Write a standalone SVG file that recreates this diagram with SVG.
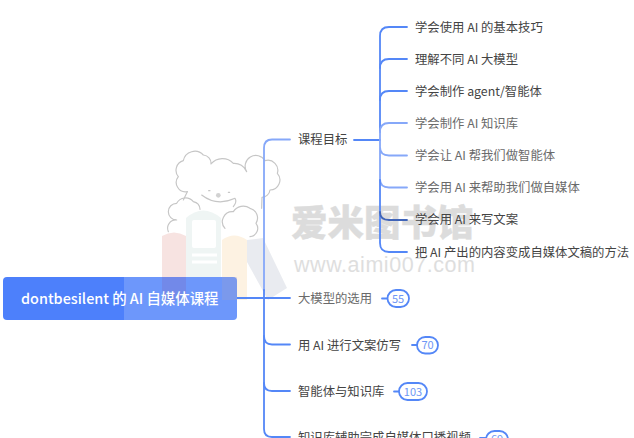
<svg xmlns="http://www.w3.org/2000/svg" width="634" height="438" viewBox="0 0 634 438">
<style>
text{font-family:"Noto Sans CJK SC","Noto Sans",sans-serif;font-size:12.350px;fill:#444}
.soft{fill:#6a6a6a}
.c{fill:none;stroke:#5487f7;stroke-width:1.800;stroke-linecap:round}
.l{stroke:#86a8f9}
.b{fill:#fff;stroke:#5487f7;stroke-width:1.800}
.n{font-size:11px;fill:#6f97f5;text-anchor:middle}
.bear{fill:none;stroke:#c6c6c6;stroke-width:3.500;stroke-linejoin:round;stroke-linecap:round}
</style>
<rect width="634" height="438" fill="#fff"/>
<g id="watermark">
<path d="M162 236Q174 229 186 236V300H162Z" fill="#f7e3e1"/>
<path d="M186 218Q203 203 221 218V300H186Z" fill="#eff5f4"/>
<rect x="192" y="220" width="24" height="28" rx="2" fill="#fff"/>
<path d="M192 255H217M192 262H217" stroke="#fff" stroke-width="3"/>
<path d="M222 240Q234 231 247 240V300H222Z" fill="#fdf2e2"/>
<path d="M247 240L263 238L287 288L268 300L247 262Z" fill="#e9ebf0"/>
<g transform="translate(150 140) scale(.3333)">
<path class="bear" d="M112 155A28 28 0 0 1 85 110A30 30 0 0 1 100 62A35 35 0 0 1 160 45A25 25 0 0 1 183 72A45 45 0 0 1 250 70A40 40 0 0 1 290 95A30 30 0 0 1 345 62A30 30 0 0 1 382 100A30 30 0 0 1 360 150A25 25 0 0 1 336 172L335 205"/>
<path class="bear" d="M112 155L100 180"/>
<path class="bear" d="M225 265A30 30 0 0 1 250 215A35 35 0 0 1 300 205A30 30 0 0 1 318 250A25 25 0 0 1 300 290"/>
<path class="bear" d="M55 275A25 25 0 0 1 80 240A25 25 0 0 1 80 190A30 30 0 0 1 130 185A25 25 0 0 1 150 208"/>
<path class="bear" d="M155 165Q200 200 255 175Q262 185 250 200"/>
<path class="bear" d="M176 152h4M235 157h4"/>
<circle cx="205" cy="166" r="7" fill="#d2d2d2"/>
</g>
<text x="291" y="236" stroke="#dcdcdc" stroke-width=".4" style="font-size:36.500px;font-weight:900;fill:#dcdcdc">爱米图书馆</text>
<text x="294" y="272" style="font-family:'Liberation Sans',sans-serif;font-size:21.500px;fill:#dedede;letter-spacing:.55px">www.aimi007.com</text>
</g>
<g id="connectors">
<path class="c" d="M237 298H290"/>
<path class="c l" d="M290 139.500H272Q264 139.500 264 148V290"/>
<path class="c" d="M264 290V429Q264 437 272 437H290"/>
<path class="c" d="M264 336Q264 344.500 272 344.500H290M264 383Q264 391 272 391H290"/>
<path class="c" d="M354 140H380"/>
<path class="c" d="M407 27H389Q380 27 380 36V132"/>
<path class="c" d="M380 68Q380 59 389 59H407M380 100Q380 91 389 91H407"/>
<path class="c l" d="M380 132Q380 123 389 123H407"/>
<path class="c l" d="M380 132V180M380 147Q380 155.500 389 155.500H407M380 179Q380 187.500 389 187.500H407"/>
<path class="c" d="M380 180V243Q380 252 389 252H407"/>
<path class="c" style="stroke:#4064b8" d="M380 212Q380 220 389 220H407"/>
<path class="c" d="M382 298.500H388M412 345H417M394 391.500H399M480 438H486"/>
</g>
<g id="root">
<rect x="3" y="277" width="234" height="43" rx="4" fill="#4d80fb"/>
<path d="M124 277H233Q237 277 237 281V316Q237 320 233 320H124Z" fill="#fff" opacity=".18"/>
<path d="M162 277H186V300H162Z" fill="#7c6fc8" opacity=".35"/>
<path d="M222 277H237V300H222Z" fill="#a8a0c0" opacity=".25"/>
<text x="21" y="304" style="font-size:14.400px;fill:#fff;font-weight:500">dontbesilent 的 AI 自媒体课程</text>
</g>
<g id="goal"><text x="298" y="144">课程目标</text></g>
<g id="goal-1"><text x="415" y="32">学会使用 AI 的基本技巧</text></g>
<g id="goal-2"><text x="415" y="64">理解不同 AI 大模型</text></g>
<g id="goal-3"><text x="415" y="96">学会制作 agent/智能体</text></g>
<g id="goal-4"><text class="soft" x="415" y="128">学会制作 AI 知识库</text></g>
<g id="goal-5"><text class="soft" x="415" y="160">学会让 AI 帮我们做智能体</text></g>
<g id="goal-6"><text class="soft" x="415" y="192">学会用 AI 来帮助我们做自媒体</text></g>
<g id="goal-7"><text x="415" y="224">学会用 AI 来写文案</text></g>
<g id="goal-8"><text x="415" y="257">把 AI 产出的内容变成自媒体文稿的方法</text></g>
<g id="models"><text class="soft" x="298" y="303">大模型的选用</text><rect class="b" x="387.500" y="290" width="21.500" height="17" rx="8.500"/><text class="n" x="398" y="302.500">55</text></g>
<g id="copy"><text x="298" y="350">用 AI 进行文案仿写</text><rect class="b" x="417" y="337" width="21" height="16.500" rx="8.200"/><text class="n" x="427.500" y="349">70</text></g>
<g id="agent"><text x="298" y="396">智能体与知识库</text><rect class="b" x="399" y="383" width="28" height="17" rx="8.500"/><text class="n" x="413" y="395.500">103</text></g>
<g id="video"><text x="298" y="442">知识库辅助完成自媒体口播视频</text><rect class="b" x="486" y="431" width="22" height="17" rx="8.500"/><text class="n" x="497" y="443">69</text></g>
</svg>
